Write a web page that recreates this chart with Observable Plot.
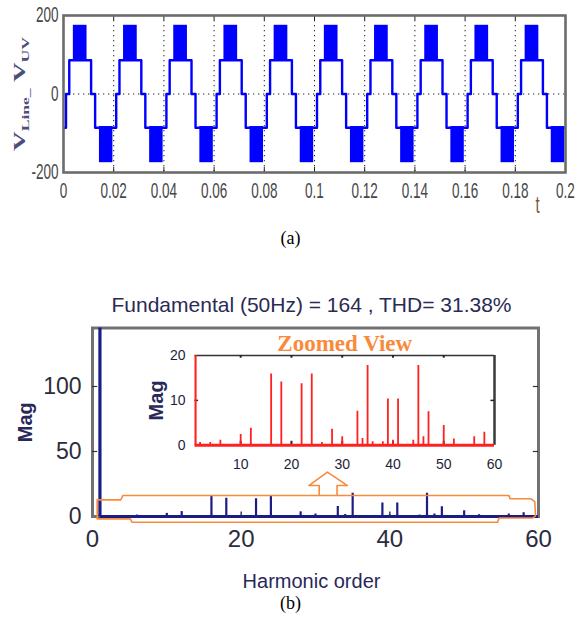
<!DOCTYPE html>
<html><head><meta charset="utf-8">
<script src="https://cdn.jsdelivr.net/npm/d3@7"></script>
<script src="https://cdn.jsdelivr.net/npm/@observablehq/plot@0.6"></script>
<style>
html,body{margin:0;padding:0;background:#fff;}
#root{position:relative;width:578px;height:623px;overflow:hidden;background:#fff;}
</style></head><body><div id="root"></div>
<script>
// ---------- Panel (a): line voltage waveform ----------
const period = 0.02;
const cycles = [0, 1, 2, 3, 4, 5, 6, 7, 8, 9];
// step pattern of one 50 Hz period (start time of each step, level)
const stepTimes  = [0, 0.0010, 0.0023, 0.0044, 0.0089, 0.0110, 0.0126, 0.0148, 0.0192];
const stepLevels = [-86, 0, 86, 86, 86, 0, -86, -86, -86];
// PWM switching bands within one period
const pwmStart = [0.0044, 0.0148];
const pwmEnd   = [0.0089, 0.0192];
const pwmLow   = [86, -86];
const pwmHigh  = [172, -172];
const timeTicks = [0, 0.02, 0.04, 0.06, 0.08, 0.1, 0.12, 0.14, 0.16, 0.18, 0.2];
const timeTickLabels = ["0", "0.02", "0.04", "0.06", "0.08", "0.1", "0.12", "0.14", "0.16", "0.18", "0.2"];
const voltTicks = [-200, 0, 200];
const voltTickLabels = ["-200", "0", "200"];

// ---------- Panel (b): harmonic spectrum ----------
const harmonicOrder = [1, 2, 4, 6, 10, 12, 16, 18, 22, 24, 26, 28, 30, 33, 34, 35, 36, 38, 39, 40, 41, 44, 45, 46, 47, 50, 52, 56, 58];
const harmonicMag   = [164, 0.6, 0.6, 1.1, 2.4, 3.8, 15.9, 14.1, 13.7, 15.9, 0.6, 3.6, 1.9, 7.6, 1.5, 17.8, 0.8, 0.8, 10.3, 1.1, 10.3, 1.1, 17.8, 1.9, 7.5, 4.4, 1.4, 1.9, 2.9];
const magTicks = [0, 50, 100];
const harmTicks = [0, 20, 40, 60];
const insetMagTicks = [0, 10, 20];
const insetHarmTicks = [10, 20, 30, 40, 50, 60];
const titleText = "Fundamental (50Hz) = 164 , THD= 31.38%";
// orange highlight outline (harmonic order, Mag) and arrow
const bracketX = [0.63, 3.8, 4.1, 56.0, 56.2, 59.0, 59.5, 59.6, 59.2, 54.7, 54.5, 5.3, 5.1, 0.63, 0.63];
const bracketY = [12.8, 12.8, 16.2, 16.2, 13.6, 13.6, 11.5, 0.5, -1.2, -1.2, -4.4, -4.4, -1.8, -1.8, 12.8];
const arrowX = [30.5, 30.5, 29.1, 31.6, 34.3, 32.9, 32.9];
const arrowY = [16.2, 23.8, 23.8, 34.1, 23.8, 23.8, 16.2];

// ---------- build tables ----------
const wave = [];
for (const c of cycles) stepTimes.forEach((t, i) => wave.push({t: c * period + t, v: stepLevels[i]}));
wave.push({t: cycles.length * period, v: stepLevels[stepLevels.length - 1]});
const pwmBlocks = [];
for (const c of cycles) pwmStart.forEach((s, j) => pwmBlocks.push({x1: c * period + s, x2: c * period + pwmEnd[j], y1: pwmLow[j], y2: pwmHigh[j]}));
const harmonics = harmonicOrder.map((h, i) => ({h, mag: harmonicMag[i]}));
const fundamental = harmonics.filter(d => d.h === 1);
const others = harmonics.filter(d => d.h !== 1);
const bracket = bracketX.map((x, i) => ({x, y: bracketY[i]}));
const arrow = arrowX.map((x, i) => ({x, y: arrowY[i]}));

const root = document.getElementById("root");
function place(el, left, top) {
  el.style.position = "absolute"; el.style.left = left + "px"; el.style.top = top + "px";
  root.appendChild(el);
}
const BLUE = "#0000ff", NAVY = "#1c1c84", RED = "#ff2020", ORANGE = "#f98a3c";
const sans = "Liberation Sans, Arial, sans-serif", serif = "Liberation Serif, Times New Roman, serif";
const M = {textAnchor: "middle", lineAnchor: "middle"};

// ---------- chart A ----------
const chartA = Plot.plot({
  width: 578, height: 250, marginLeft: 63, marginRight: 13, marginTop: 15, marginBottom: 78,
  style: {fontFamily: sans, background: "transparent", overflow: "visible"},
  x: {domain: [0, 0.2], axis: null},
  y: {domain: [-200, 200], axis: null},
  marks: [
    Plot.ruleX(timeTicks.slice(1, -1), {x: d => d, stroke: "#222", strokeDasharray: "1.3,3.7", strokeWidth: 1}),
    Plot.ruleY([0], {y: d => d, stroke: "#222", strokeDasharray: "1.3,3.7", strokeWidth: 1}),
    Plot.rect(pwmBlocks, {x1: "x1", x2: "x2", y1: "y1", y2: "y2", fill: BLUE, stroke: BLUE, strokeWidth: 2.4}),
    Plot.line(wave, {x: "t", y: "v", curve: "step-after", stroke: BLUE, strokeWidth: 2.4, clip: true}),
    Plot.ruleX(timeTicks, {x: d => d, y1: -200, y2: -187, stroke: "#222", strokeWidth: 1}),
    Plot.ruleX(timeTicks, {x: d => d, y1: 200, y2: 187, stroke: "#222", strokeWidth: 1}),
    Plot.frame({stroke: "#6c6c6c", strokeWidth: 2.6}),
    Plot.text(timeTicks, {x: d => d, text: (d, i) => timeTickLabels[i], frameAnchor: "bottom", dy: 19, ...M, fontSize: 13.5, fill: "#474747"}),
    Plot.text(voltTicks, {y: d => d, text: (d, i) => voltTickLabels[i], frameAnchor: "left", dx: -5, textAnchor: "end", lineAnchor: "middle", fontSize: 13.5, fill: "#474747"}),
    Plot.text(["t"], {frameAnchor: "bottom-right", dx: -28, dy: 33, ...M, fontSize: 15, fill: "#7b5a3a"}),
    Plot.text(["VLine_ VUV"], {frameAnchor: "left", dx: -44, rotate: -90, ...M, fontSize: 17, fontWeight: "bold", fontFamily: serif, fill: "#4d4d7a"}),
    Plot.text(["(a)"], {frameAnchor: "bottom", dx: -24, dy: 66, ...M, fontSize: 18, fontFamily: serif, fill: "#000"})
  ]
});
d3.select(chartA).selectAll("text").each(function () {
  const txt = this.textContent;
  const t = this.getAttribute("transform") || "";
  if (txt === "(a)") return;
  if (t.includes("rotate")) this.setAttribute("transform", t + " scale(1.6,1)");
  else this.setAttribute("transform", t + " scale(1,1.6)");
  if (txt === "VLine_ VUV") {
    const s = d3.select(this); s.text(null);
    s.append("tspan").text("V");
    s.append("tspan").attr("font-size", 11).attr("dy", 4).text("Line_");
    s.append("tspan").attr("dy", -4).text(" V");
    s.append("tspan").attr("font-size", 11).attr("dy", 4).text("UV");
  }
});
place(chartA, 0, 0);

// ---------- chart B (main spectrum) ----------
const chartB = Plot.plot({
  width: 578, height: 338, marginLeft: 92, marginRight: 40, marginTop: 42.5, marginBottom: 107,
  style: {fontFamily: sans, background: "transparent", overflow: "visible"},
  x: {domain: [0, 60], axis: null},
  y: {domain: [0, 145], axis: null},
  marks: [
    Plot.frame({stroke: "#727272", strokeWidth: 3}),
    Plot.ruleY(magTicks.slice(1), {y: d => d, x1: 0, x2: 0.7, stroke: "#333", strokeWidth: 1.2}),
    Plot.ruleY(magTicks.slice(1), {y: d => d, x1: 59.3, x2: 60, stroke: "#333", strokeWidth: 1.2}),
    Plot.ruleX(harmTicks.slice(1, -1), {x: d => d, y1: 0, y2: 3.5, stroke: "#222", strokeWidth: 1.3}),
    Plot.ruleY([0], {y: d => d, x1: 1, x2: 60, stroke: NAVY, strokeWidth: 3}),
    Plot.ruleX(others, {x: "h", y1: 0, y2: "mag", stroke: NAVY, strokeWidth: 2.2, clip: true}),
    Plot.ruleX(fundamental, {x: "h", y1: 0, y2: "mag", stroke: NAVY, strokeWidth: 3.2, clip: true}),
    Plot.line(bracket, {x: "x", y: "y", stroke: ORANGE, strokeWidth: 1.6}),
    Plot.line(arrow, {x: "x", y: "y", stroke: ORANGE, strokeWidth: 1.6}),
    Plot.text(magTicks, {y: d => d, text: d => String(d), frameAnchor: "left", dx: -11, textAnchor: "end", lineAnchor: "middle", fontSize: 23, fill: "#2c2c3c"}),
    Plot.text(harmTicks, {x: d => d, text: d => String(d), frameAnchor: "bottom", dy: 23, ...M, fontSize: 24, fill: "#2c2c3c"}),
    Plot.text(["Harmonic order"], {frameAnchor: "bottom", dx: -4, dy: 65.5, ...M, fontSize: 20, fill: "#28285a"}),
    Plot.text(["Mag"], {frameAnchor: "left", dx: -67, rotate: -90, ...M, fontSize: 20, fontWeight: "bold", fill: "#28285a"}),
    Plot.text([titleText], {frameAnchor: "top", dx: -4, dy: -23, ...M, fontSize: 21, fill: "#2a2a55"}),
    Plot.text(["(b)"], {frameAnchor: "bottom", dx: -25, dy: 87, ...M, fontSize: 18, fontFamily: serif, fill: "#000"})
  ]
});
place(chartB, 0, 285);

// ---------- chart C (zoomed inset) ----------
const chartC = Plot.plot({
  width: 370, height: 160, marginLeft: 54.5, marginRight: 16, marginTop: 30, marginBottom: 40.2,
  style: {fontFamily: sans, background: "transparent", overflow: "visible"},
  x: {domain: [1, 60], axis: null},
  y: {domain: [0, 20], axis: null},
  marks: [
    Plot.ruleY([20], {y: d => d, stroke: "#333", strokeWidth: 1.5}),
    Plot.ruleX([60], {x: d => d, stroke: "#3a3a3a", strokeWidth: 2.5}),
    Plot.ruleX(insetHarmTicks.slice(0, -1), {x: d => d, y1: 20, y2: 19.4, stroke: "#222", strokeWidth: 2}),
    Plot.ruleX(insetHarmTicks.slice(0, -1), {x: d => d, y1: 0, y2: 0.9, stroke: "#222", strokeWidth: 2}),
    Plot.ruleY([10], {y: d => d, x1: 1, x2: 1.7, stroke: "#222", strokeWidth: 1.5}),
    Plot.ruleY([10], {y: d => d, x1: 59.3, x2: 60, stroke: "#222", strokeWidth: 1.5}),
    Plot.ruleY([0], {y: d => d, x1: 1, x2: 60, stroke: RED, strokeWidth: 3}),
    Plot.ruleX(others, {x: "h", y1: 0, y2: "mag", stroke: RED, strokeWidth: 1.8, clip: true}),
    Plot.ruleX(fundamental, {x: "h", y1: 0, y2: "mag", stroke: RED, strokeWidth: 3.2, clip: true}),
    Plot.text(insetMagTicks, {y: d => d, text: d => String(d), frameAnchor: "left", dx: -9.5, textAnchor: "end", lineAnchor: "middle", fontSize: 14, fill: "#1e1e3a"}),
    Plot.text(insetHarmTicks, {x: d => d, text: d => String(d), frameAnchor: "bottom", dy: 19.5, ...M, fontSize: 14, fill: "#1e1e3a"}),
    Plot.text(["Mag"], {frameAnchor: "left", dx: -38, rotate: -90, ...M, fontSize: 20, fontWeight: "bold", fill: "#28285a"}),
    Plot.text(["Zoomed View"], {frameAnchor: "top", dy: -12, ...M, fontSize: 23, fontWeight: "bold", fontFamily: serif, fill: ORANGE})
  ]
});
place(chartC, 140, 325);
</script></body></html>
